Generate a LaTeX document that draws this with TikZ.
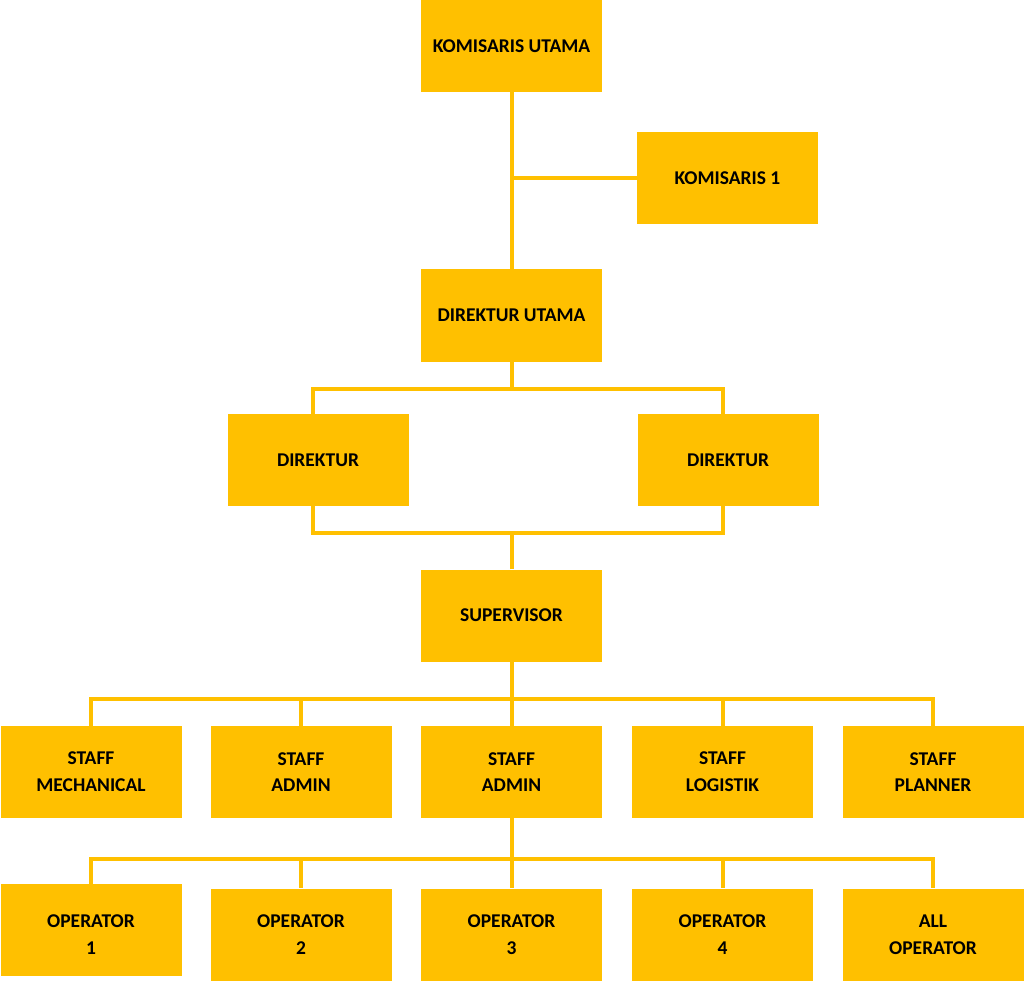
\documentclass[tikz,border=0pt]{standalone}
\usepackage{fontspec}
\setmainfont{Carlito}
\definecolor{orgyellow}{HTML}{FFC000}
\tikzset{
  jabatan/.style={fill=orgyellow, minimum width=181pt, minimum height=92pt,
    inner sep=0pt, align=center, font=\fontsize{19.5}{26.7}\selectfont\bfseries},
  garis/.style={draw=orgyellow, line width=4pt},
}
\begin{document}
\begin{tikzpicture}[x=1pt,y=-1pt]
			%%%%% START %%%%%
			\useasboundingbox (0,0) rectangle (1024,981);
			
			\node[jabatan] (ku) at (511.5,46) {KOMISARIS UTAMA};
			\node[jabatan] (k1) at (727.5,178.5) {KOMISARIS 1};
			\node[jabatan] (du) at (511.5,315.5) {DIREKTUR UTAMA};
			\node[jabatan] (dl) at (318,460) {DIREKTUR};
			\node[jabatan] (dr) at (728,460) {DIREKTUR};
			\node[jabatan] (sup) at (511.5,615.5) {SUPERVISOR};
			
			\node[jabatan] (st1) at (91,772) {STAFF\\MECHANICAL};
			\node[jabatan] (st2) at (301,772) {STAFF\\ADMIN};
			\node[jabatan] (st3) at (511.5,772) {STAFF\\ADMIN};
			\node[jabatan] (st4) at (722.5,772) {STAFF\\LOGISTIK};
			\node[jabatan] (st5) at (933,772) {STAFF\\PLANNER};
			
			% box 1 sits a little higher, its text does not
			\node[jabatan] (op1) at (91,930) {\rule{0pt}{22.5pt}OPERATOR\\1};
			\node[jabatan] (op2) at (301,934.5) {OPERATOR\\2};
			\node[jabatan] (op3) at (511.5,934.5) {OPERATOR\\3};
			\node[jabatan] (op4) at (722.5,934.5) {OPERATOR\\4};
			\node[jabatan] (op5) at (933,934.5) {ALL\\OPERATOR};
			
			\draw[garis] (ku.south) -- (du.north);
			\draw[garis] (k1.west) -- (k1.west -| ku.south);
			
			\draw[garis] (du.south) -- ++(0,27) -| ([xshift=-5pt]dl.north);
			\draw[garis] (du.south) -- ++(0,27) -| ([xshift=-5pt]dr.north);
			
			\draw[garis] ([xshift=-5pt]dl.south) -- ++(0,27) -| ([xshift=-5pt]dr.south);
			\draw[garis] (sup.north) -- ++(0,-37);
			
			\foreach \s in {st1,st2,st3,st4,st5}
				\draw[garis] (sup.south) -- ++(0,37) -| (\s.north);
			
			\foreach \o in {op1,op2,op3,op4,op5}
				\draw[garis] (st3.south) -- ++(0,41) -| (\o.north);
			
			%%%%% END %%%%%
\end{tikzpicture}
\end{document}
